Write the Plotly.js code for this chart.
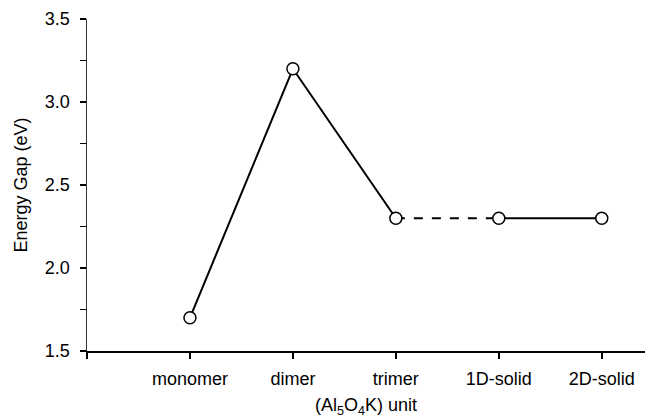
<!DOCTYPE html>
<html><head><meta charset="utf-8">
<script src="https://cdn.plot.ly/plotly-3.0.1.min.js"></script>
<style>html,body{margin:0;padding:0;background:#fff}</style>
</head><body><div id="chart" style="width:647px;height:418px"></div>
<script>
const categories = ["monomer", "dimer", "trimer", "1D-solid", "2D-solid"];
const positions = [1, 2, 3, 4, 5];
const energyGap = [1.7, 3.2, 2.3, 2.3, 2.3];
const yTicks = [1.5, 2.0, 2.5, 3.0, 3.5];

const lineStyle = (dash) => ({color: "#000", width: 2, dash: dash});
const traces = [
  {x: positions.slice(0, 3), y: energyGap.slice(0, 3), mode: "lines", line: lineStyle("solid"), hoverinfo: "skip"},
  {x: positions.slice(2, 4), y: energyGap.slice(2, 4), mode: "lines", line: lineStyle("dash"), hoverinfo: "skip"},
  {x: positions.slice(3, 5), y: energyGap.slice(3, 5), mode: "lines", line: lineStyle("solid"), hoverinfo: "skip"},
  {x: positions, y: energyGap, mode: "markers",
   marker: {symbol: "circle", size: 12, color: "#fff", line: {color: "#000", width: 1.5}}}
];

const layout = {
  width: 647, height: 418,
  margin: {l: 87, r: 2, t: 19, b: 67},
  showlegend: false,
  paper_bgcolor: "#fff", plot_bgcolor: "#fff",
  font: {family: "Liberation Sans, Arial, sans-serif", color: "#000", size: 18},
  xaxis: {
    range: [0, 5.42], tickvals: [0].concat(positions), ticktext: [""].concat(categories),
    showgrid: false, zeroline: false, showline: true, linecolor: "#000", linewidth: 2,
    ticks: "outside", ticklen: 6, tickwidth: 1.5, tickcolor: "#000",
    tickfont: {size: 18}, ticklabelstandoff: 4,
    title: {text: "(Al<sub>5</sub>O<sub>4</sub>K) unit", font: {size: 18}, standoff: 18}
  },
  yaxis: {
    range: [1.5, 3.5], tickvals: yTicks, tickformat: ".1f",
    showgrid: false, zeroline: false, showline: true, linecolor: "#333", linewidth: 1.5,
    ticks: "outside", ticklen: 6, tickwidth: 1.5, tickcolor: "#000",
    minor: {dtick: 0.25, ticks: "outside", ticklen: 6, tickwidth: 1.5, tickcolor: "#000", showgrid: false},
    tickfont: {size: 18}, ticklabelstandoff: 6,
    title: {text: "Energy Gap (eV)", font: {size: 18}, standoff: 12}
  }
};
Plotly.newPlot("chart", traces, layout, {displayModeBar: false, staticPlot: true});
</script></body></html>
